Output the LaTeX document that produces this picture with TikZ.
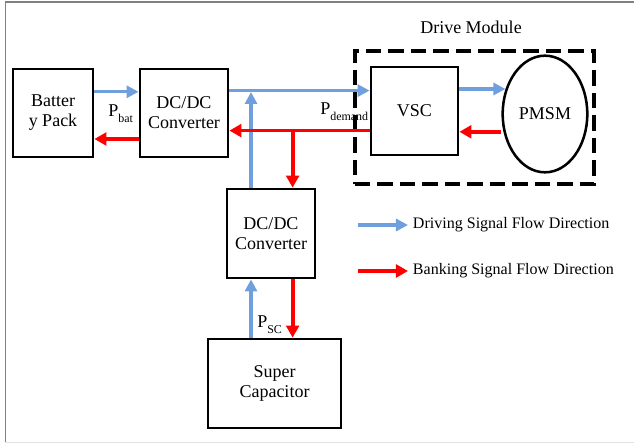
\documentclass[tikz,border=0pt]{standalone}
\usepackage{fontspec}
\setmainfont{Liberation Serif}
\usetikzlibrary{arrows.meta,positioning,shapes.geometric}
\definecolor{flowblue}{RGB}{112,159,222}
\definecolor{flowred}{RGB}{255,0,0}
\definecolor{framegray}{RGB}{128,128,128}
\definecolor{lightgray}{RGB}{225,225,225}
\newcommand{\psub}[1]{P\raisebox{-4pt}{\fontsize{8.5}{9}\selectfont #1}}

\begin{document}
\begin{tikzpicture}[
    x=0.025cm, y=-0.025cm,
    font=\fontsize{12.8}{14.2}\selectfont,
    box/.style={draw, line width=2pt, minimum width=2.2cm, minimum height=2.2cm, align=center, inner sep=1pt},
    blueflow/.style={-{Triangle[length=3mm, width=3mm]}, line width=2.2pt, flowblue},
    redflow/.style={-{Triangle[length=3mm, width=3.2mm]}, line width=2.7pt, flowred},
    lbl/.style={inner sep=0pt, anchor=base west}
  ]
    \useasboundingbox (0,0) rectangle (634,444);
    \draw[framegray, line width=1.4pt] (634,2) -- (5.5,2) -- (5.5,442);
    \draw[lightgray, line width=1.4pt] (5.5,442.5) -- (634,442.5);

    % drive module frame
    \node[draw, line width=2.2pt, dash pattern=on 11pt off 5pt, minimum width=5.975cm, minimum height=3.325cm] (drive) at (474.5,117.5) {};
    \node (drivelbl) at (471,27) {Drive Module};

    \node[box, minimum width=2cm] (bat) at (53,113) {Batter\\y Pack};
    \node[box] (dc1) at (184,113) {DC/DC\\Converter};
    \node[box, minimum width=2.175cm] (vsc) at (414.5,111) {VSC};
    \node[draw, ellipse, line width=1.8pt, minimum width=2.115cm, minimum height=2.915cm, inner sep=0pt] (pmsm) at (545,114) {PMSM};
    \node[box, minimum height=2.225cm] (dc2) at (271,233.5) {DC/DC\\Converter};
    \node[box, minimum width=3.325cm, minimum height=2.225cm] (sc) at (274.5,383.5) {Super\\Capacitor};

    \node[lbl] (pbat) at (108,116.5) {\psub{bat}};
    \node[lbl] (pdem) at (320,115) {\psub{demand}};
    \node[lbl] (psc) at (257,328) {\psub{SC}};

    % legend
    \node[anchor=west, font=\fontsize{11.4}{13}\selectfont] (lgdrive) at (408,225) {Driving Signal Flow Direction};
    \node[anchor=west, font=\fontsize{11.4}{13}\selectfont] (lgbank) at (408,271) {Banking Signal Flow Direction};
    \draw[blueflow] ([xshift=-1.25cm]lgdrive.west) -- (lgdrive.west);
    \draw[redflow] ([xshift=-1.25cm]lgbank.west) -- (lgbank.west);

    \coordinate (dcbus) at ([yshift=0.56cm]dc1.east);
    \coordinate (demand) at ([yshift=-0.49cm]vsc.west);
    \coordinate (dc2up) at ([xshift=-0.5cm]dc2.north);
    \coordinate (dc2dn) at ([xshift=0.54cm]dc2.north);

    \draw[blueflow] ([yshift=0.53cm]bat.east) -- ([yshift=0.53cm]dc1.west);
    \draw[redflow] ([yshift=-0.65cm]dc1.west) -- ([yshift=-0.65cm]bat.east);
    \draw[blueflow] (dcbus) -- (dcbus -| vsc.west);
    \draw[blueflow] (dc2up) -- ([yshift=-1pt]dcbus -| dc2up);
    \draw[redflow] (demand) -- (demand -| dc1.east);
    \draw[redflow] (demand -| dc2dn) -- (dc2dn);
    \draw[blueflow, shorten >=-0.1cm] ([yshift=0.55cm]vsc.east) -- ([yshift=0.55cm]vsc.east -| pmsm.west);
    \draw[redflow] ([yshift=-0.52cm]vsc.east -| pmsm.west) -- ([yshift=-0.52cm]vsc.east);
    \draw[blueflow] (sc.north -| dc2up) -- (dc2.south -| dc2up);
    \draw[redflow] (dc2.south -| dc2dn) -- (sc.north -| dc2dn);
  \end{tikzpicture}
\end{document}
